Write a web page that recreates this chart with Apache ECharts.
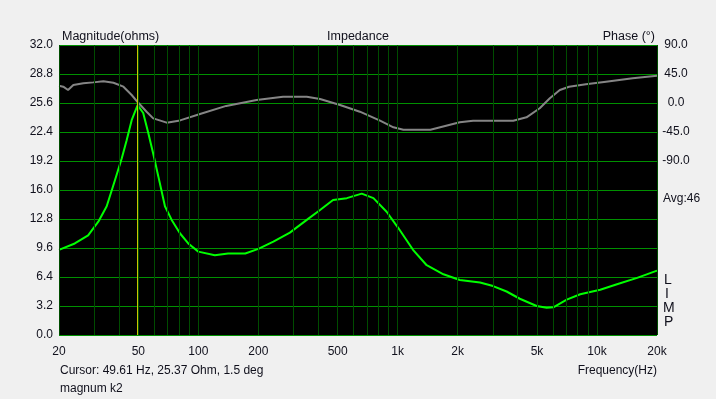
<!DOCTYPE html>
<html lang="en">
<head>
    <meta charset="UTF-8">
    <title>Impedance</title>
    <script src="https://cdnjs.cloudflare.com/ajax/libs/echarts/6.0.0/echarts.min.js"></script>
    <style>
        * { margin: 0; padding: 0; box-sizing: border-box; }
        body { background: #f0f0f0; }
        #chart { width: 716px; height: 399px; }
    </style>
</head>
<body>
    <div id="chart"></div>
    <script>
        // impedance magnitude (ohms) vs frequency (Hz)
        const magFreq = [20, 24, 28, 31.5, 34.7, 38.2, 41.3, 43.7, 46.3, 49.6, 52.9, 56.1, 59.4, 63, 68, 73.5, 81, 89, 100,
            121, 141, 172, 200, 238, 288, 350, 408, 474, 556, 660, 756, 880, 1008, 1194, 1398, 1697, 2050, 2590,
            3010, 3520, 4100, 4980, 5590, 6040, 7050, 8240, 10380, 12600, 15900, 20000];
        const magOhm = [9.4, 10.1, 11.0, 12.5, 14.2, 17.1, 19.5, 21.5, 23.7, 25.37, 24.5, 22.3, 20.0, 17.5, 14.2, 12.7, 11.2, 10.1, 9.2,
            8.8, 9.0, 9.0, 9.5, 10.3, 11.3, 12.7, 13.8, 14.9, 15.1, 15.6, 15.1, 13.6, 11.8, 9.4, 7.7, 6.7, 6.07, 5.8,
            5.4, 4.8, 4.0, 3.2, 3.0, 3.05, 3.9, 4.5, 5.0, 5.6, 6.3, 7.1];

        // phase (deg) vs frequency (Hz)
        const phaseFreq = [20, 21, 22.2, 23.6, 26.5, 29.7, 33.4, 37.5, 42.1, 46.3, 49.6, 55, 59.4, 69.4, 81, 102, 138, 196,
            266, 350, 408, 514, 646, 816, 952, 1068, 1460, 2050, 2390, 3800, 4430, 5160, 5800, 6510, 7240, 8800,
            11100, 15100, 20000];
        const phaseDeg = [26.9, 25.3, 20.2, 27.9, 30.5, 32, 33.7, 31.5, 25.3, 12.4, 1.5, -13.5, -23.8, -30.5, -27, -17, -4.5, 4.5,
            9.8, 9.8, 6.2, -3.1, -13.5, -27.4, -37.7, -41.4, -41.4, -30, -27.4, -27.4, -22.2, -8.2, 7.3, 20.2, 25.3, 29,
            33, 38.3, 42.4];

        const gridFreqs = [20, 30, 40, 50, 60, 70, 80, 90, 100, 200, 300, 400, 500, 600, 700, 800, 900,
            1000, 2000, 3000, 4000, 5000, 6000, 7000, 8000, 9000, 10000, 20000];
        const labelFreqs = [20, 50, 100, 200, 500, 1000, 2000, 5000, 10000, 20000];
        const cursorFreq = 49.61;

        const font = 'Liberation Sans, Arial, sans-serif';
        const txt = '#10101c';

        const chart = echarts.init(document.getElementById('chart'));

        const option = {
            backgroundColor: '#f0f0f0',
            animation: false,
            textStyle: { fontFamily: font },
            grid: {
                left: 59, right: 59, top: 45, bottom: 64,
                show: true, backgroundColor: '#000', borderWidth: 0
            },
            xAxis: {
                type: 'log', logBase: 10, min: 20, max: 20000,
                axisLine: { show: false }, axisTick: { show: false },
                axisLabel: { show: false }, splitLine: { show: false }
            },
            yAxis: [
                {
                    type: 'value', min: 0, max: 32, interval: 3.2, position: 'left',
                    axisLine: { show: false }, axisTick: { show: false },
                    axisLabel: { color: txt, fontSize: 12, margin: 6, formatter: v => v.toFixed(1) },
                    splitLine: { lineStyle: { color: '#009000', width: 1 } }
                },
                {
                    type: 'value', min: -360, max: 90, interval: 45, position: 'right',
                    axisLine: { show: false }, axisTick: { show: false },
                    axisLabel: {
                        color: txt, fontSize: 12, margin: 19, align: 'center',
                        formatter: v => (v >= -90 ? v.toFixed(1) : '')
                    },
                    splitLine: { show: false }
                }
            ],
            series: [
                {
                    type: 'line', data: [], z: 1, silent: true,
                    markLine: {
                        silent: true, symbol: ['none', 'none'], animation: false,
                        lineStyle: { color: '#004c00', width: 1, type: 'solid', opacity: 1 },
                        label: {
                            show: false, position: 'start', distance: 11, color: txt, fontSize: 12,
                            formatter: p => (p.value >= 1000 ? (p.value / 1000) + 'k' : String(p.value))
                        },
                        emphasis: { disabled: true },
                        data: gridFreqs.map(f => ({
                            xAxis: f,
                            label: { show: labelFreqs.indexOf(f) >= 0 }
                        })).concat([{
                            xAxis: cursorFreq,
                            lineStyle: { color: '#c8c800' },
                            label: { show: false }
                        }])
                    }
                },
                {
                    name: 'Phase', type: 'line', yAxisIndex: 1, z: 3,
                    showSymbol: false, symbol: 'none',
                    lineStyle: { color: '#858585', width: 2 },
                    data: phaseFreq.map((f, i) => [f, phaseDeg[i]])
                },
                {
                    name: 'Magnitude', type: 'line', yAxisIndex: 0, z: 4,
                    showSymbol: false, symbol: 'none',
                    lineStyle: { color: '#00ff00', width: 2 },
                    data: magFreq.map((f, i) => [f, magOhm[i]])
                }
            ],
            graphic: [
                { type: 'text', left: 62, top: 30, style: { text: 'Magnitude(ohms)', fill: txt, font: '12.5px ' + font } },
                { type: 'text', left: 'center', top: 30, style: { text: 'Impedance', fill: txt, font: '12.5px ' + font } },
                { type: 'text', right: 61, top: 30, style: { text: 'Phase (°)', fill: txt, font: '12.5px ' + font } },
                { type: 'text', left: 663, top: 193, style: { text: 'Avg:46', fill: txt, font: '12px ' + font } },
                { type: 'text', left: 664, top: 273, style: { text: 'L', fill: txt, font: '14px ' + font } },
                { type: 'text', left: 665, top: 287, style: { text: 'I', fill: txt, font: '14px ' + font } },
                { type: 'text', left: 663, top: 301, style: { text: 'M', fill: txt, font: '14px ' + font } },
                { type: 'text', left: 664, top: 315, style: { text: 'P', fill: txt, font: '14px ' + font } },
                { type: 'text', left: 60, top: 365, style: { text: 'Cursor: 49.61 Hz, 25.37 Ohm, 1.5 deg', fill: txt, font: '12px ' + font } },
                { type: 'text', left: 60, top: 383, style: { text: 'magnum k2', fill: txt, font: '12px ' + font } },
                { type: 'text', right: 59, top: 365, style: { text: 'Frequency(Hz)', fill: txt, font: '12px ' + font } }
            ]
        };
        chart.setOption(option);
    </script>
</body>
</html>
